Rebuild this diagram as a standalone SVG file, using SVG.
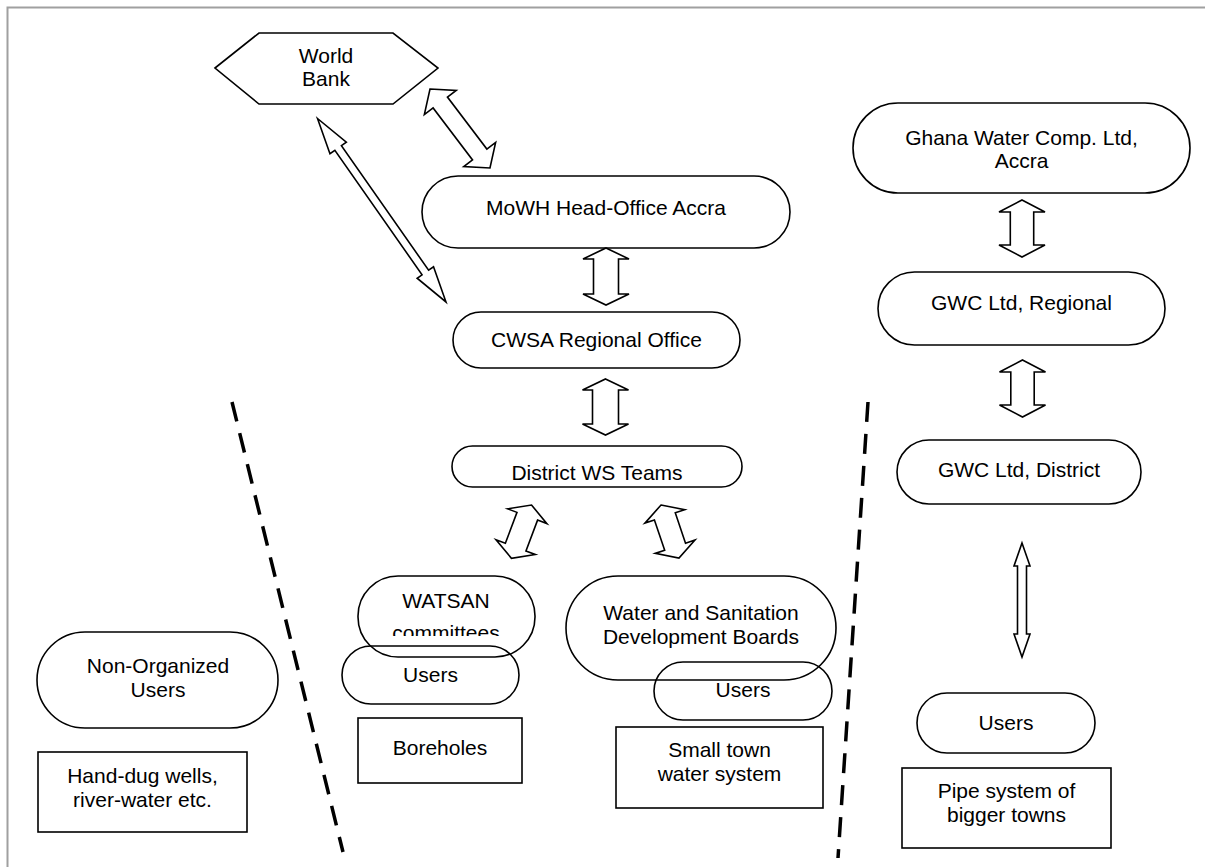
<svg xmlns="http://www.w3.org/2000/svg" width="1205" height="867" viewBox="0 0 1205 867">
<style>
.s{fill:none;stroke:#000;stroke-width:1.6}
.a{fill:#fff;stroke:#000;stroke-width:1.6;stroke-linejoin:miter}
.t{font-family:"Liberation Sans",Arial,sans-serif;font-size:21px;fill:#000;text-anchor:middle}
.d{fill:none;stroke:#000;stroke-width:3.5;stroke-dasharray:20 12}
</style>
<defs>
<clipPath id="cw"><rect x="340" y="580" width="200" height="56"/></clipPath>
</defs>
<rect width="1205" height="867" fill="#fff"/>
<path d="M7.5,867 V7.5 H1205" fill="none" stroke="#a0a0a0" stroke-width="2"/>

<g id="worldbank"><polygon class="s" points="215,68 259,33 393,33 438,68 393,104 259,104"/><text class="t" x="326" y="63">World</text><text class="t" x="326" y="86">Bank</text></g>
<g id="mowh"><rect class="s" x="422" y="176" width="368" height="72" rx="36" ry="36"/><text class="t" x="606" y="215">MoWH Head-Office Accra</text></g>
<g id="cwsa"><rect class="s" x="453" y="312" width="287" height="56" rx="28" ry="28"/><text class="t" x="596.5" y="347">CWSA Regional Office</text></g>
<g id="district"><rect class="s" x="452" y="446" width="290" height="41" rx="20.5" ry="20.5"/><text class="t" x="597" y="480">District WS Teams</text></g>
<g id="watsan"><rect class="s" x="358" y="576" width="177" height="81" rx="40" ry="40"/><text class="t" x="446" y="608">WATSAN</text><text class="t" x="446" y="640" clip-path="url(#cw)">committees</text></g>
<g id="users1"><rect class="s" x="342" y="646" width="177" height="58" rx="29" ry="29"/><text class="t" x="430.5" y="682">Users</text></g>
<g id="boreholes"><rect class="s" x="358" y="718" width="164" height="65"/><text class="t" x="440" y="755">Boreholes</text></g>
<g id="wsdb"><rect class="s" x="566" y="576" width="270" height="104" rx="52" ry="52"/><text class="t" x="701" y="620">Water and Sanitation</text><text class="t" x="701" y="644">Development Boards</text></g>
<g id="users2"><rect class="s" x="654" y="662" width="178" height="58" rx="29" ry="29"/><text class="t" x="743" y="697">Users</text></g>
<g id="smalltown"><rect class="s" x="616" y="727" width="207" height="81"/><text class="t" x="719.5" y="757">Small town</text><text class="t" x="719.5" y="781">water system</text></g>
<g id="nonorg"><rect class="s" x="37" y="632" width="241" height="96" rx="48" ry="48"/><text class="t" x="158" y="673">Non-Organized</text><text class="t" x="158" y="697">Users</text></g>
<g id="handdug"><rect class="s" x="38" y="752" width="209" height="80"/><text class="t" x="142.5" y="783">Hand-dug wells,</text><text class="t" x="142.5" y="807">river-water etc.</text></g>
<g id="gwc"><rect class="s" x="853" y="103" width="337" height="90" rx="45" ry="45"/><text class="t" x="1021.5" y="145">Ghana Water Comp. Ltd,</text><text class="t" x="1021.5" y="168">Accra</text></g>
<g id="gwcreg"><rect class="s" x="878" y="272" width="287" height="73" rx="36.5" ry="36.5"/><text class="t" x="1021.5" y="310">GWC Ltd, Regional</text></g>
<g id="gwcdist"><rect class="s" x="897" y="440" width="244" height="64" rx="32" ry="32"/><text class="t" x="1019" y="477">GWC Ltd, District</text></g>
<g id="users3"><rect class="s" x="917" y="693" width="178" height="60" rx="30" ry="30"/><text class="t" x="1006" y="730">Users</text></g>
<g id="pipe"><rect class="s" x="902" y="768" width="209" height="80"/><text class="t" x="1006.5" y="798">Pipe system of</text><text class="t" x="1006.5" y="822">bigger towns</text></g>

<g id="connectors">
<polygon class="a" transform="translate(430,89) rotate(52.8)" points="0,0 17,-20 17,-9 82.2,-9 82.2,-20 99.2,0 82.2,20 82.2,9 17,9 17,20"/>
<polygon class="a" transform="translate(317.5,118.5) rotate(55)" points="0,0 36,-10 36,-4 188,-4 188,-10 224,0 188,10 188,4 36,4 36,10"/>
<polygon class="a" transform="translate(606,248) rotate(90)" points="0,0 11,-23 11,-12.5 46,-12.5 46,-23 57,0 46,23 46,12.5 11,12.5 11,23"/>
<polygon class="a" transform="translate(605.5,379) rotate(90)" points="0,0 11,-23 11,-13 45,-13 45,-23 56,0 45,23 45,13 11,13 11,23"/>
<polygon class="a" transform="translate(531.5,505) rotate(110.6)" points="0,0 12,-21 12,-11 45,-11 45,-21 57,0 45,21 45,11 12,11 12,21"/>
<polygon class="a" transform="translate(661,505) rotate(71.3)" points="0,0 12,-21 12,-11 44,-11 44,-21 56,0 44,21 44,11 12,11 12,21"/>
<polygon class="a" transform="translate(1022,200) rotate(90)" points="0,0 12,-23 12,-11.7 45,-11.7 45,-23 57,0 45,23 45,11.7 12,11.7 12,23"/>
<polygon class="a" transform="translate(1022.5,360) rotate(90)" points="0,0 12,-23 12,-11.7 45,-11.7 45,-23 57,0 45,23 45,11.7 12,11.7 12,23"/>
<polygon class="a" transform="translate(1022,543) rotate(90)" points="0,0 23,-8 23,-4.5 91,-4.5 91,-8 114,0 91,8 91,4.5 23,4.5 23,8"/>
<line class="d" x1="232" y1="402" x2="343" y2="852"/>
<line class="d" x1="868" y1="402" x2="838" y2="858"/>
</g>
</svg>
